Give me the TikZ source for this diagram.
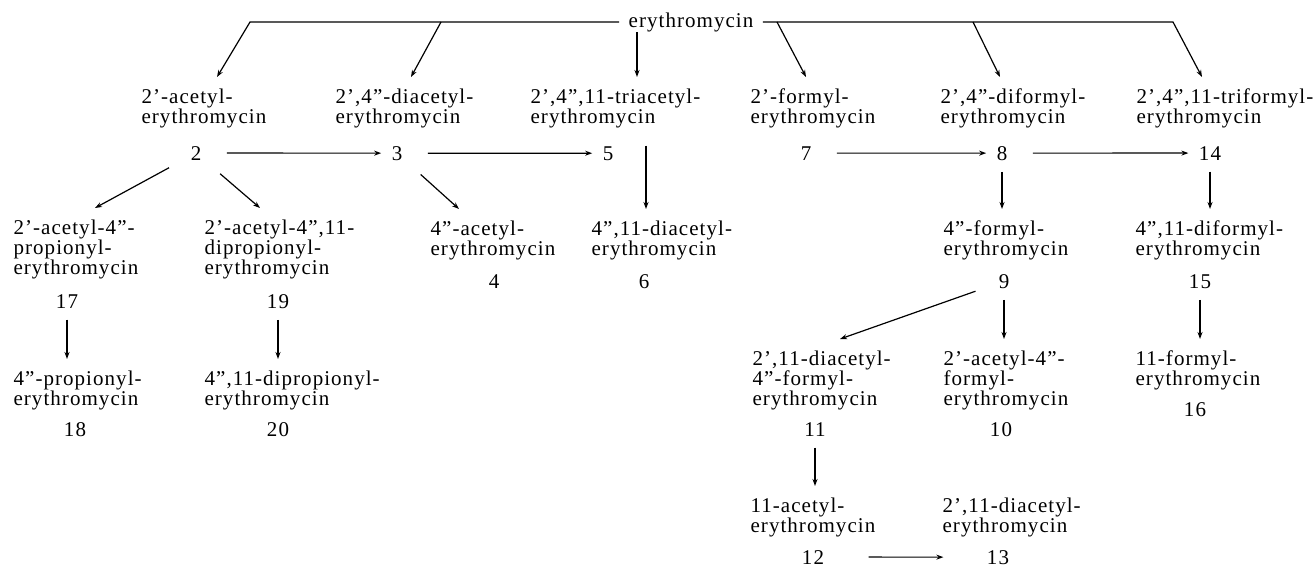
\documentclass[tikz,border=0pt]{standalone}
\usepackage{fontspec}
\setmainfont{Liberation Serif}[LetterSpace=5]
\usetikzlibrary{arrows.meta}

\begin{document}
\begin{tikzpicture}[x=1pt, y=-1pt, line width=1.2pt, >={Stealth[length=7pt, width=5pt]},
    cpd/.style={anchor=north west, align=left, inner sep=0pt, outer ysep=12pt,
        font=\fontsize{21}{20}\selectfont},
    num/.style={anchor=base, inner sep=0pt, font=\fontsize{21}{20}\selectfont},
    side/.style={shorten <=25pt, shorten >=10pt},
    slant/.style={shorten <=24pt},
    down/.style={shorten <=11pt}]
    \useasboundingbox (0,0) rectangle (1313,566);

    \node[num, inner xsep=9pt] (ery) at (691,27) {erythromycin};

    \node[cpd] (l2) at (141,77) {2’-acetyl-\\erythromycin};
    \node[cpd] (l3) at (335,77) {2’,4”-diacetyl-\\erythromycin};
    \node[cpd] (l5) at (530,77) {2’,4”,11-triacetyl-\\erythromycin};
    \node[cpd] (l7) at (750,77) {2’-formyl-\\erythromycin};
    \node[cpd] (l8) at (940,77) {2’,4”-diformyl-\\erythromycin};
    \node[cpd] (l14) at (1136,77) {2’,4”,11-triformyl-\\erythromycin};
    \node[num] (n2) at (196,160) {2};
    \node[num] (n3) at (397,160) {3};
    \node[num] (n5) at (608,160) {5};
    \node[num] (n7) at (806,160) {7};
    \node[num] (n8) at (1002,160) {8};
    \node[num] (n14) at (1210,160) {14};

    \node[cpd] (l17) at (13,208) {2’-acetyl-4”-\\propionyl-\\erythromycin};
    \node[cpd] (l19) at (204,208) {2’-acetyl-4”,11-\\dipropionyl-\\erythromycin};
    \node[cpd] (l4) at (430,209) {4”-acetyl-\\erythromycin};
    \node[cpd] (l6) at (591,209) {4”,11-diacetyl-\\erythromycin};
    \node[cpd] (l9) at (943,209) {4”-formyl-\\erythromycin};
    \node[cpd] (l15) at (1135,209) {4”,11-diformyl-\\erythromycin};
    \node[num] (n17) at (67,308) {17};
    \node[num] (n19) at (278,308) {19};
    \node[num] (n4) at (494,288) {4};
    \node[num] (n6) at (644,288) {6};
    \node[num] (n9) at (1004,288) {9};
    \node[num] (n15) at (1200,288) {15};

    \node[cpd] (l18) at (13,359) {4”-propionyl-\\erythromycin};
    \node[cpd] (l20) at (204,359) {4”,11-dipropionyl-\\erythromycin};
    \node[cpd] (l11) at (752,339) {2’,11-diacetyl-\\4”-formyl-\\erythromycin};
    \node[cpd] (l10) at (943,339) {2’-acetyl-4”-\\formyl-\\erythromycin};
    \node[cpd] (l16) at (1135,339) {11-formyl-\\erythromycin};
    \node[num] (n18) at (75,436) {18};
    \node[num] (n20) at (278,436) {20};
    \node[num] (n11) at (815,436) {11};
    \node[num] (n10) at (1001,436) {10};
    \node[num] (n16) at (1195,416) {16};

    \node[cpd] (l12) at (750,486) {11-acetyl-\\erythromycin};
    \node[cpd] (l13) at (942,486) {2’,11-diacetyl-\\erythromycin};
    \node[num] (n12) at (813,564) {12};
    \node[num] (n13) at (998,564) {13};

    \coordinate (ja) at (250,22);
    \coordinate (jb) at (441,22);
    \coordinate (jc) at (777,22);
    \coordinate (jd) at (973,22);
    \coordinate (je) at (1173,22);
    \coordinate (t2) at ([xshift=76pt]l2.north west);
    \coordinate (t3) at ([xshift=76pt]l3.north west);
    \coordinate (t5) at ([xshift=107pt]l5.north west);
    \coordinate (t7) at ([xshift=56pt]l7.north west);
    \coordinate (t8) at ([xshift=60pt]l8.north west);
    \coordinate (t14) at ([xshift=66pt]l14.north west);
    \coordinate (t6) at ([xshift=55pt]l6.north west);

    \draw[->] (ery.west) -- (ja) -- (t2);
    \draw[->] (jb) -- (t3);
    \draw[->] (ery.south -| t5) -- (t5);
    \draw[->] (ery.east) -- (je) -- (t14);
    \draw[->] (jc) -- (t7);
    \draw[->] (jd) -- (t8);
    \draw[->] (n5.north -| t6) -- (t6);

    \path[->]
    (n2)  edge[side] (n3)
          edge[slant] ([xshift=82pt]l17.north west)
          edge[slant] ([xshift=56pt]l19.north west)
    (n3)  edge[side] (n5)
          edge[slant] ([xshift=29pt]l4.north west)
    (n7)  edge[side] (n8)
    (n8)  edge[side] (n14)
          edge[down] (n8 |- l9.north)
    (n14) edge[down] (n14 |- l15.north)
    (n17) edge[down] (n17 |- l18.north)
    (n19) edge[down] (n19 |- l20.north)
    (n9)  edge[slant] ([xshift=88pt]l11.north west)
          edge[down] (n9 |- l10.north)
    (n15) edge[down] (n15 |- l16.north)
    (n11) edge[down] (n11 |- l12.north)
    (n12) edge[shorten <=44pt, shorten >=43pt] (n13);
\end{tikzpicture}
\end{document}
